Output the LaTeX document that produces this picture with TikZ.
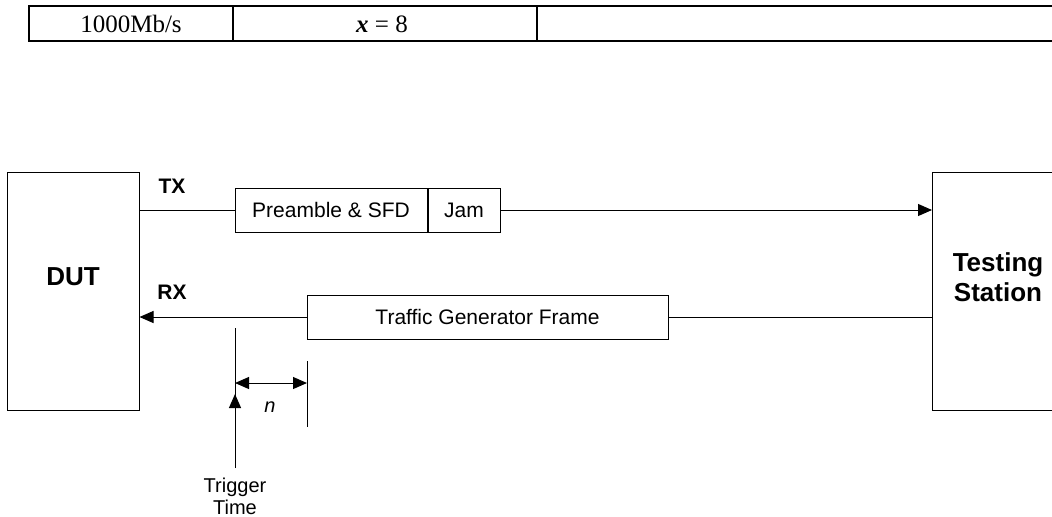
\documentclass[tikz,border=0pt]{standalone}
\usepackage{fontspec}
\setmainfont{Liberation Serif}
\setsansfont{Liberation Sans}
\usetikzlibrary{arrows.meta,positioning}

\begin{document}
\begin{tikzpicture}[x=0.5pt,y=-0.5pt,
    box/.style={draw, line width=0.5pt, inner sep=0pt, minimum height=22pt,
                font=\sffamily\fontsize{10.5}{12}\selectfont},
    lbl/.style={font=\sffamily\fontsize{10}{11}\selectfont, align=center},
    port/.style={font=\sffamily\bfseries\fontsize{10.5}{12}\selectfont},
    big/.style={font=\sffamily\bfseries\fontsize{13}{15}\selectfont, align=center},
    cell/.style={font=\fontsize{12.5}{14}\selectfont},
    tip/.style={-{Triangle[length=7pt,width=6pt]}}]
\useasboundingbox (0,0) rectangle (1052,516);

% table row
\draw[line width=1pt] (1052,6) -- (29,6) -- (29,41) -- (1052,41)
    (233,6) -- (233,41) (537,6) -- (537,41);
\node[cell] (rate) at (131,24) {1000Mb/s};
\node[cell] (xval) at (382,24) {\textbf{\textit{x}} = 8};

% end stations
\node[draw, line width=0.5pt, minimum width=66pt, minimum height=119pt] (dut) at (73,291) {};
\node[big] (dutname) at (73,277) {DUT};
\draw[line width=0.5pt] (1052,172) -- (932,172) -- (932,410) -- (1052,410);
\coordinate (stn) at (932,291);
\node[big] (stnname) at (998,277) {Testing\\Station};

% frames
\node[box, minimum width=96pt] (pre) at (331,210) {Preamble \& SFD};
\node[box, minimum width=36pt, right=0pt of pre] (jam) {Jam};
\node[box, minimum width=180.5pt] (traffic) at (487.5,317) {Traffic Generator Frame};
\node[port] (tx) at (172,186) {TX};
\node[port] (rx) at (172,292) {RX};

\draw[line width=0.5pt] (dut.east |- pre.west) -- (pre.west);
\draw[line width=0.5pt, tip] (jam.east) -- (jam.east -| stn);
\draw[line width=0.5pt] (stn |- traffic.east) -- (traffic.east);
\draw[line width=0.5pt, tip] (traffic.west) -- (traffic.west -| dut.east);

% trigger and offset n
\coordinate (trigtop) at (235,328);
\coordinate (trigbot) at (235,468);
\coordinate (trigmark) at (235,394);
\coordinate (ticktop) at (307,361);
\coordinate (tickbot) at (307,427);
\draw[line width=0.5pt] (trigtop) -- (trigbot);
\draw[line width=0.5pt, tip] (trigbot) -- (trigmark);
\draw[line width=0.5pt] (ticktop) -- (tickbot);
\draw[line width=0.5pt, {Triangle[length=7pt,width=6pt]}-{Triangle[length=7pt,width=6pt]}]
    (trigtop |- 0,383) -- (ticktop |- 0,383);
\node[lbl] (n) at (270,407) {\textit{n}};
\node[lbl] (trigger) at (235,496) {Trigger\\Time};
\end{tikzpicture}
\end{document}
